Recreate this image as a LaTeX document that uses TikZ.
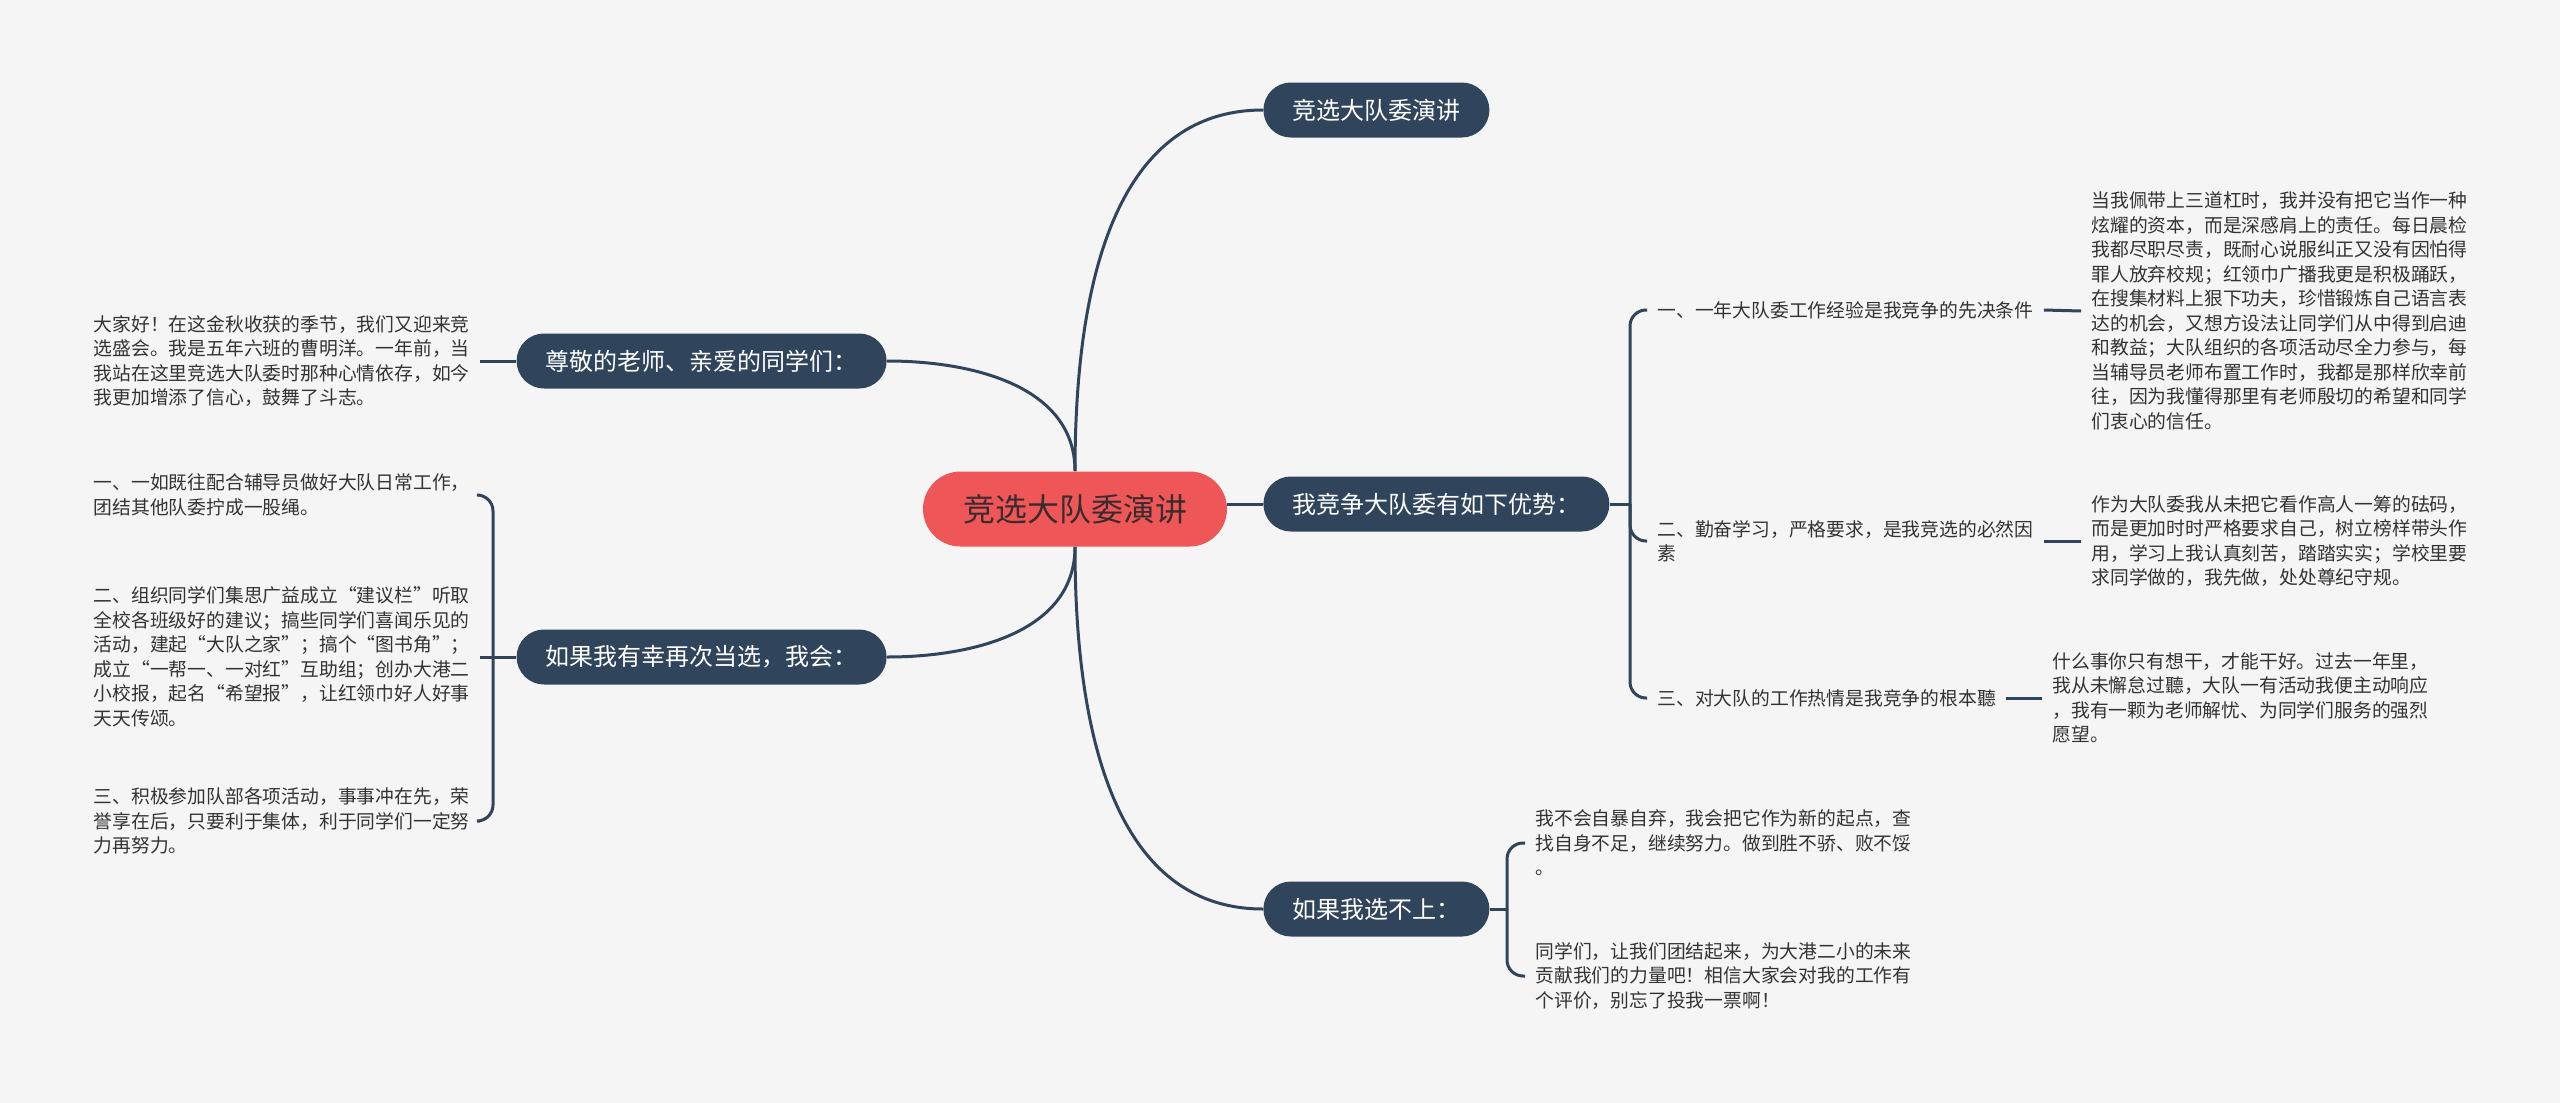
\documentclass[tikz,border=0pt]{standalone}
\usepackage{fontspec}
\setmainfont{Noto Sans CJK SC}
\usepackage{tikz}
\definecolor{navy}{HTML}{30455C}
\definecolor{rootred}{HTML}{EE5658}
\definecolor{rootink}{HTML}{3A2C2C}
\definecolor{ink}{HTML}{333333}
\definecolor{paper}{HTML}{F5F5F5}
\begin{document}
\begin{tikzpicture}[x=0.5pt,y=-0.5pt,
    root/.style={fill=rootred,text=rootink,rounded corners=18.75pt,minimum height=37.5pt,inner xsep=20pt,font=\fontsize{16}{18}\selectfont},
    topic/.style={fill=navy,text=white,rounded corners=13.75pt,minimum height=27.5pt,inner xsep=14.5pt,font=\fontsize{12}{14}\selectfont},
    txt/.style={text=ink,align=left,inner xsep=5pt,inner ysep=1pt,font=\fontsize{9.4}{12.25}\selectfont},
    link/.style={draw=navy,line width=1.5pt},
    brace/.style={link,rounded corners=8pt}]
    \useasboundingbox (0,0) rectangle (2560,1103);
    \fill[paper] (0,0) rectangle (2560,1103);
    \node[root](root) at (1075,509) {竞选大队委演讲};
    \node[topic,anchor=west](n1) at (1263,110) {竞选大队委演讲};
    \node[topic,anchor=west](n2) at (1263,504) {我竞争大队委有如下优势：};
    \node[topic,anchor=west](n3) at (1263,909) {如果我选不上：};
    \node[topic,anchor=east](n5) at (887,361) {尊敬的老师、亲爱的同学们：};
    \node[topic,anchor=east](n6) at (887,657) {如果我有幸再次当选，我会：};
    \node[txt,anchor=west](r1) at (1647,310) {一、一年大队委工作经验是我竞争的先决条件};
    \node[txt,anchor=west](r2) at (1647,541) {二、勤奋学习，严格要求，是我竞选的必然因\\素};
    \node[txt,anchor=west](r3) at (1647,698) {三、对大队的工作热情是我竞争的根本聽};
    \node[txt,anchor=west](d1) at (2081,311) {当我佩带上三道杠时，我并没有把它当作一种\\炫耀的资本，而是深感肩上的责任。每日晨检\\我都尽职尽责，既耐心说服纠正又没有因怕得\\罪人放弃校规；红领巾广播我更是积极踊跃，\\在搜集材料上狠下功夫，珍惜锻炼自己语言表\\达的机会，又想方设法让同学们从中得到启迪\\和教益；大队组织的各项活动尽全力参与，每\\当辅导员老师布置工作时，我都是那样欣幸前\\往，因为我懂得那里有老师殷切的希望和同学\\们衷心的信任。};
    \node[txt,anchor=west](d2) at (2081,541) {作为大队委我从未把它看作高人一筹的砝码，\\而是更加时时严格要求自己，树立榜样带头作\\用，学习上我认真刻苦，踏踏实实；学校里要\\求同学做的，我先做，处处尊纪守规。};
    \node[txt,anchor=west](d3) at (2042,698) {什么事你只有想干，才能干好。过去一年里，\\我从未懈怠过聽，大队一有活动我便主动响应\\，我有一颗为老师解忧、为同学们服务的强烈\\愿望。};
    \node[txt,anchor=west](q1) at (1525,843) {我不会自暴自弃，我会把它作为新的起点，查\\找自身不足，继续努力。做到胜不骄、败不馁\\。};
    \node[txt,anchor=west](q2) at (1525,976) {同学们，让我们团结起来，为大港二小的未来\\贡献我们的力量吧！相信大家会对我的工作有\\个评价，别忘了投我一票啊！};
    \node[txt,anchor=east](t0) at (480,361) {大家好！在这金秋收获的季节，我们又迎来竞\\选盛会。我是五年六班的曹明洋。一年前，当\\我站在这里竞选大队委时那种心情依存，如今\\我更加增添了信心，鼓舞了斗志。};
    \node[txt,anchor=east](l1) at (480,495) {一、一如既往配合辅导员做好大队日常工作，\\团结其他队委拧成一股绳。};
    \node[txt,anchor=east](l2) at (480,657) {二、组织同学们集思广益成立“建议栏”听取\\全校各班级好的建议；搞些同学们喜闻乐见的\\活动，建起“大队之家”；搞个“图书角”；\\成立“一帮一、一对红”互助组；创办大港二\\小校报，起名“希望报”，让红领巾好人好事\\天天传颂。};
    \node[txt,anchor=east](l3) at (480,821) {三、积极参加队部各项活动，事事冲在先，荣\\誉享在后，只要利于集体，利于同学们一定努\\力再努力。};
    \coordinate (b2) at (1630,504);
    \coordinate (b3) at (1507,909);
    \coordinate (b6) at (493,657);
    \draw[link](root.north) to[out=90,in=180] (n1.west);
    \draw[link](root.east |- n2.west) -- (n2.west);
    \draw[link](root.south) to[out=-90,in=180] (n3.west);
    \draw[link](root.north) to[out=90,in=0] (n5.east);
    \draw[link](root.south) to[out=-90,in=0] (n6.east);
    \draw[link](n2.east) -- (b2);
    \draw[brace](b2) |- (r1.west);\draw[brace](b2) |- (r2.west);\draw[brace](b2) |- (r3.west);
    \draw[link](r1.east) -- (d1.west);\draw[link](r2.east |- d2.west) -- (d2.west);\draw[link](r3.east) -- (d3.west);
    \draw[link](n3.east) -- (b3);
    \draw[brace](b3) |- (q1.west);\draw[brace](b3) |- (q2.west);
    \draw[link](n5.west) -- (t0.east);
    \draw[link](n6.west) -- (b6);
    \draw[brace](b6) |- (l1.east);\draw[link](b6) -- (l2.east);\draw[brace](b6) |- (l3.east);
\end{tikzpicture}
\end{document}
